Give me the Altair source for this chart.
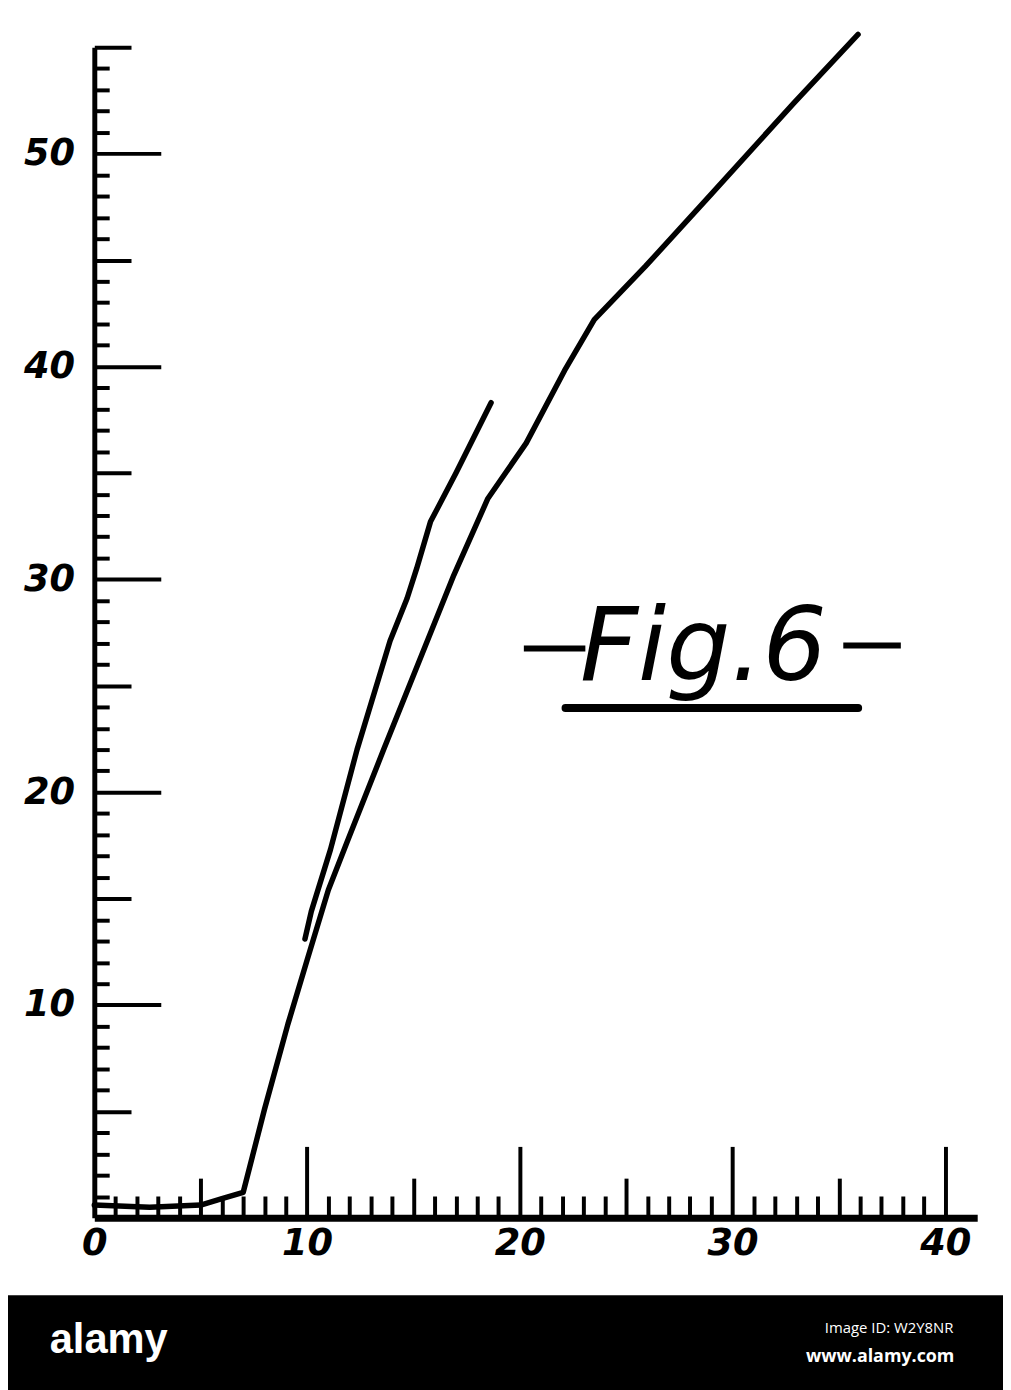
import altair as alt
import pandas as pd

# ---- data ----
curve_a_x = [0.0, 2.6, 5.0, 6.0, 7.0, 8.0, 9.1, 10.0, 11.0, 11.9, 13.6, 16.9, 18.5, 20.3, 22.1, 23.5, 25.9, 29.0, 32.9, 35.9]
curve_a_y = [0.6, 0.5, 0.6, 0.9, 1.2, 5.1, 9.1, 12.1, 15.4, 17.7, 22.0, 30.2, 33.8, 36.4, 39.8, 42.2, 44.7, 48.1, 52.4, 55.6]

curve_b_x = [9.9, 10.2, 11.1, 12.35, 13.9, 14.7, 15.15, 15.8, 17.0, 18.65]
curve_b_y = [13.1, 14.4, 17.3, 22.0, 27.1, 29.1, 30.5, 32.7, 35.0, 38.3]

x_labels = [0, 10, 20, 30, 40]
y_labels = [10, 20, 30, 40, 50]
x_ticks = list(range(1, 41))
y_ticks = list(range(1, 56))

fig_label = "Fig.6"

df = pd.concat([
    pd.DataFrame({"x": curve_a_x, "y": curve_a_y, "curve": "A", "order": range(len(curve_a_x))}),
    pd.DataFrame({"x": curve_b_x, "y": curve_b_y, "curve": "B", "order": range(len(curve_b_x))}),
], ignore_index=True)

W, H = 890, 1180
xscale = alt.Scale(domain=[0, 41.5], nice=False, zero=False)
yscale = alt.Scale(domain=[0, 55], nice=False, zero=False)

FONT = "DejaVu Sans"

# axes with labels + domain lines
lines = alt.Chart(df).mark_line(
    color="black", strokeWidth=5.5, strokeCap="round", strokeJoin="round"
).encode(
    x=alt.X("x:Q", scale=xscale, title=None,
            axis=alt.Axis(orient="bottom", values=x_labels, ticks=False, tickSize=0,
                          domainWidth=7, domainColor="black", grid=False,
                          labelFont=FONT, labelFontSize=37, labelFontStyle="italic",
                          labelFontWeight="bold",
                          labelColor="black", labelPadding=8, labelFlush=False,
                          labelOverlap=False)),
    y=alt.Y("y:Q", scale=yscale, title=None,
            axis=alt.Axis(orient="left", values=y_labels, ticks=False, tickSize=0,
                          domainWidth=5, domainColor="black", grid=False,
                          labelFont=FONT, labelFontSize=37, labelFontStyle="italic",
                          labelFontWeight="bold",
                          labelColor="black", labelPadding=20, labelFlush=False,
                          labelOverlap=False)),
    detail="curve:N",
    order="order:Q",
)

# inward-pointing graduation ticks
ticks = alt.Chart(df).mark_point(opacity=0).encode(
    x=alt.X("x:Q", scale=xscale, title=None,
            axis=alt.Axis(orient="top", offset=-H, values=x_ticks, labels=False,
                          domain=False, grid=False, tickColor="black", tickWidth=4,
                          tickSize={"expr": "datum.value % 10 === 0 ? 72 : (datum.value % 5 === 0 ? 40 : 22)"})),
    y=alt.Y("y:Q", scale=yscale, title=None,
            axis=alt.Axis(orient="right", offset=-W, values=y_ticks, labels=False,
                          domain=False, grid=False, tickColor="black", tickWidth=4,
                          tickSize={"expr": "datum.value % 10 === 0 ? 67 : (datum.value % 5 === 0 ? 37 : 15)"})),
)

one = pd.DataFrame({"t": [fig_label]})

fig_text = alt.Chart(one).mark_text(
    font=FONT, fontSize=102, fontStyle="italic", fontWeight="normal",
    color="black", align="center", baseline="alphabetic"
).encode(x=alt.value(614), y=alt.value(638), text="t:N")

dash_left = alt.Chart(one).mark_rule(color="black", strokeWidth=6).encode(
    x=alt.value(433), x2=alt.value(495), y=alt.value(606))
dash_right = alt.Chart(one).mark_rule(color="black", strokeWidth=6).encode(
    x=alt.value(755), x2=alt.value(813), y=alt.value(603))
underline = alt.Chart(one).mark_rule(color="black", strokeWidth=8, strokeCap="round").encode(
    x=alt.value(475), x2=alt.value(770), y=alt.value(666))

# bottom credit band
band = alt.Chart(one).mark_rect(color="black").encode(
    x=alt.value(-120), x2=alt.value(1000), y=alt.value(1258), y2=alt.value(1400))
brand = alt.Chart(pd.DataFrame({"t": ["alamy"]})).mark_text(
    font="Liberation Sans", fontSize=42, fontWeight="bold",
    color="white", align="left", baseline="alphabetic"
).encode(x=alt.value(-45), y=alt.value(1316), text="t:N")
img_id = alt.Chart(pd.DataFrame({"t": ["Image ID: W2Y8NR"]})).mark_text(
    font="Open Sans", fontSize=15, color="white", align="right", baseline="alphabetic"
).encode(x=alt.value(866), y=alt.value(1296), text="t:N")
site = alt.Chart(pd.DataFrame({"t": ["www.alamy.com"]})).mark_text(
    font="Open Sans", fontSize=18, fontWeight="bold", color="white", align="right",
    baseline="alphabetic"
).encode(x=alt.value(867), y=alt.value(1325), text="t:N")

chart = alt.layer(
    ticks, lines, fig_text, dash_left, dash_right, underline, band, brand, img_id, site
).resolve_axis(x="independent", y="independent").properties(
    width=W, height=H,
    autosize=alt.AutoSizeParams(type="none"),
    padding={"left": 87, "top": 34, "right": 26, "bottom": 168},
    background="white",
).configure_view(stroke=None)

chart.save("out.html", embed_options={"renderer": "svg", "actions": False})
